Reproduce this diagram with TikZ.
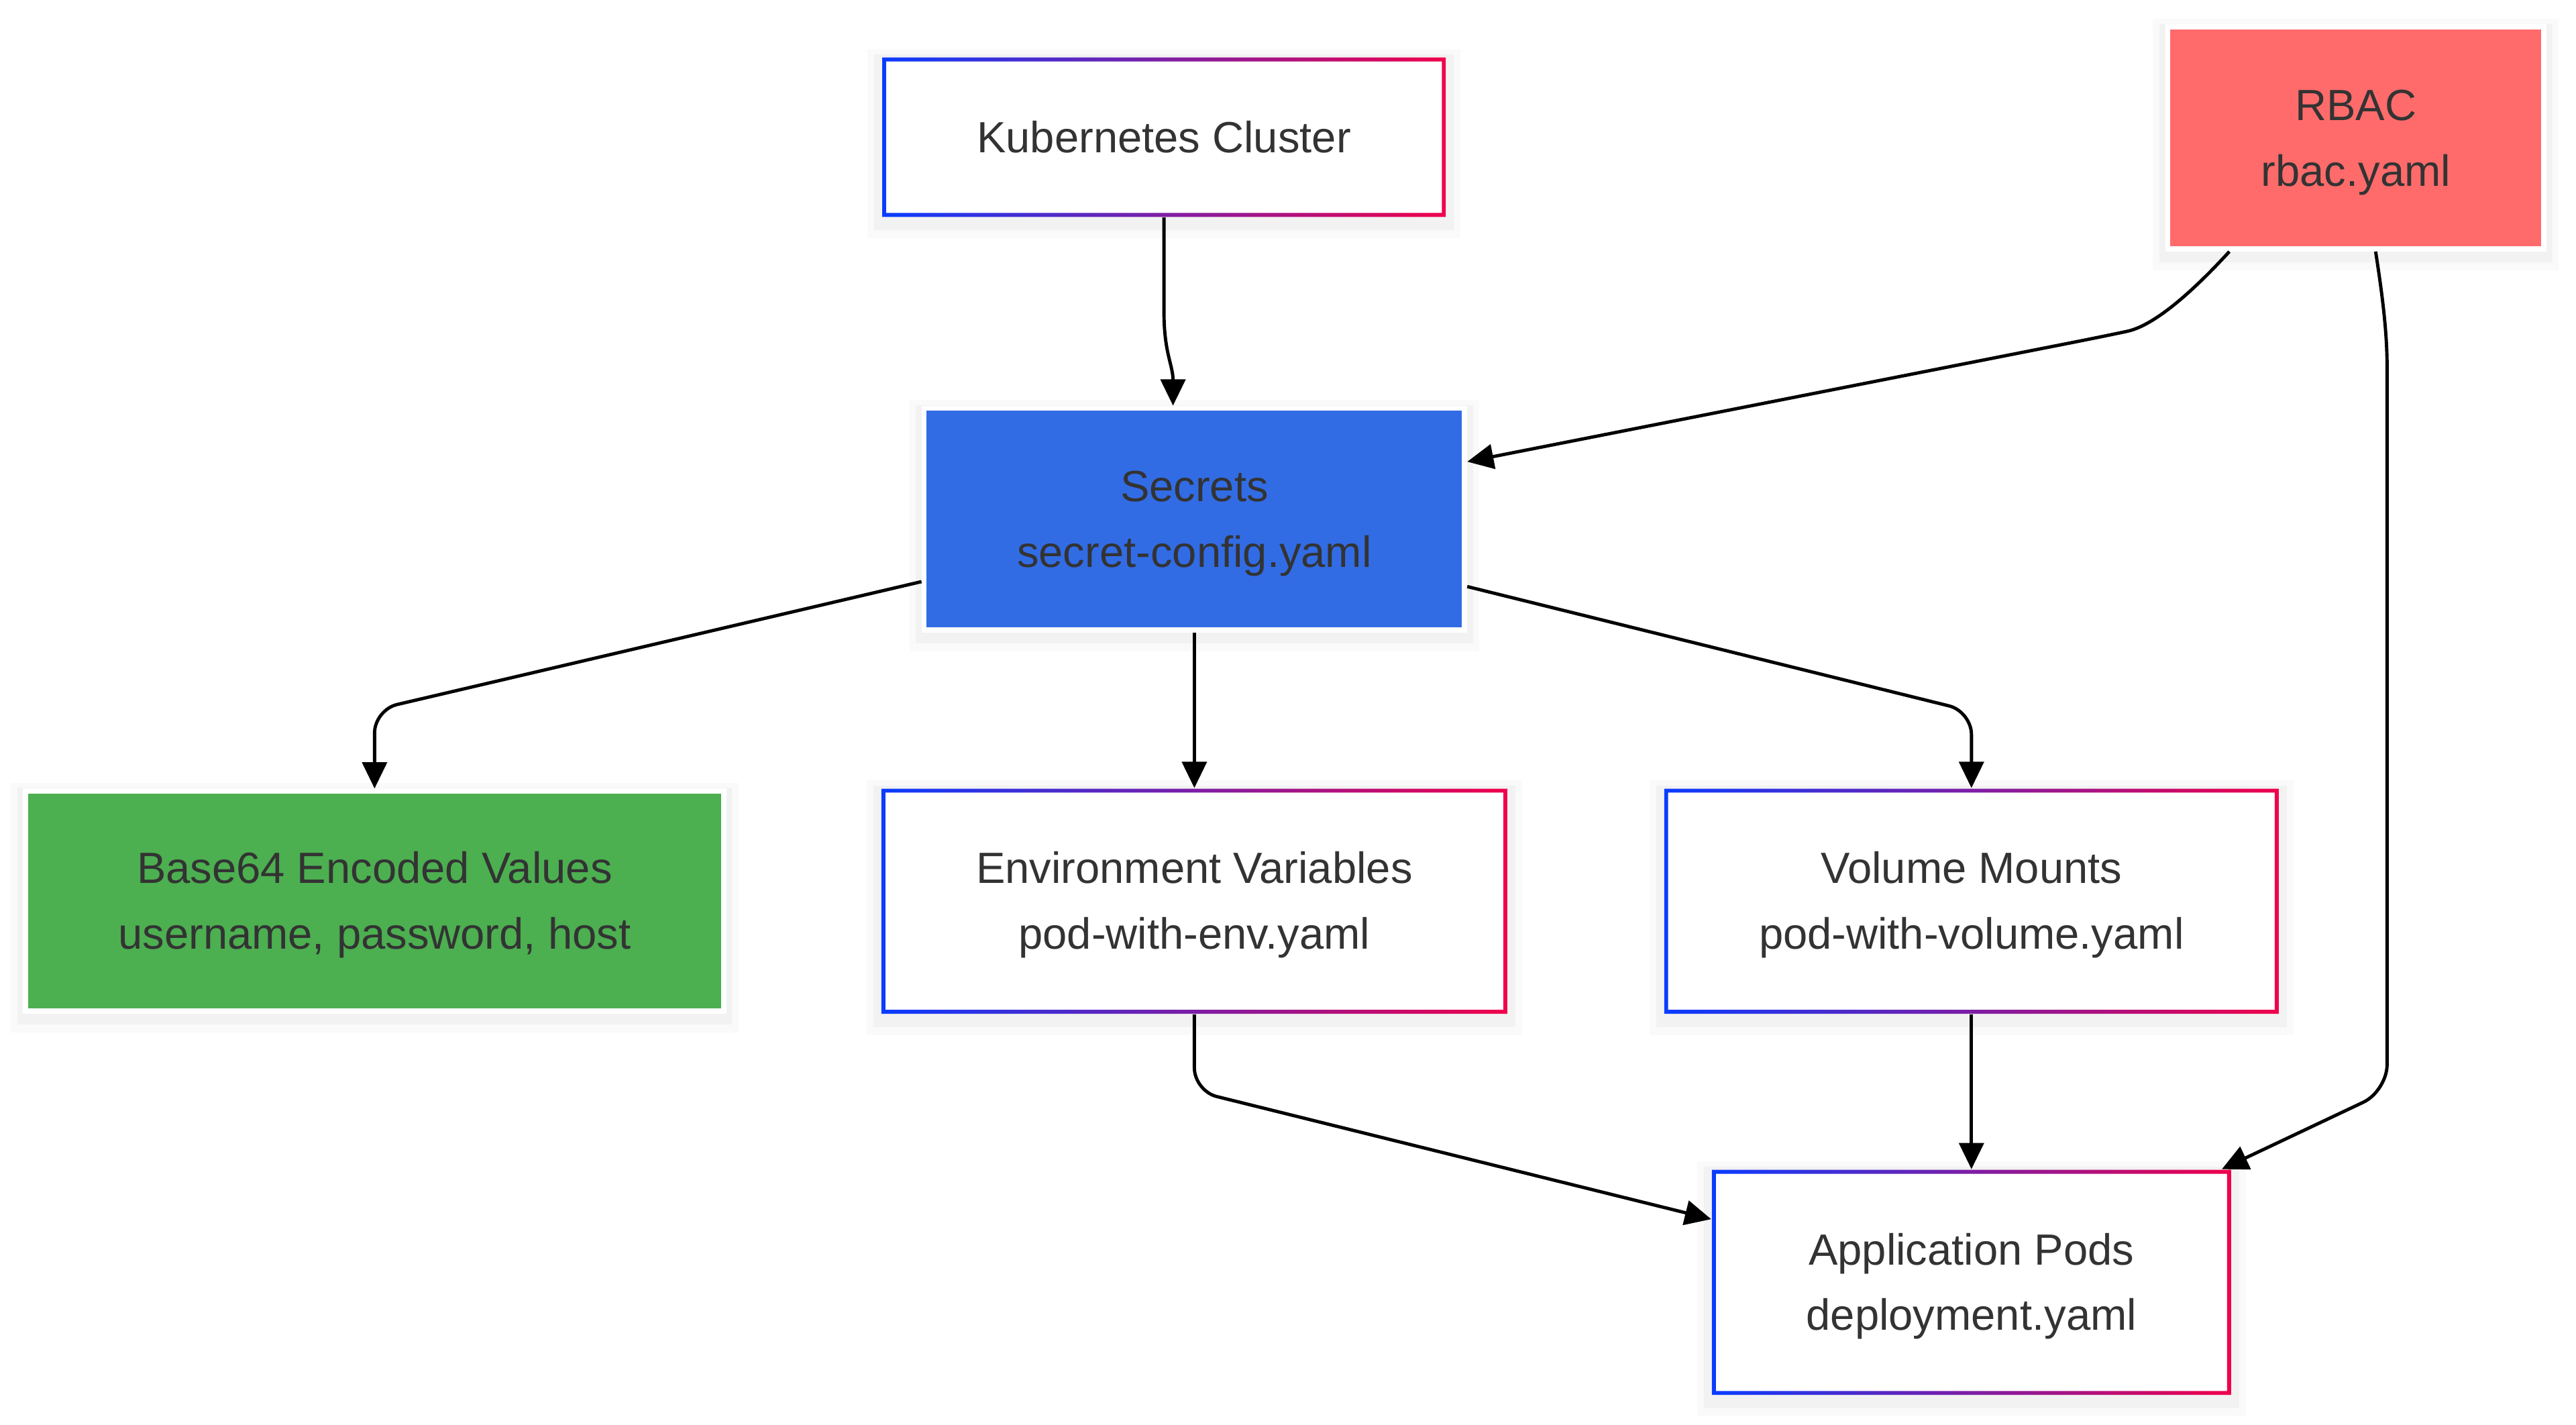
\documentclass[tikz,border=0pt]{standalone}
\usepackage{fontspec}
\setmainfont{Liberation Sans}
\usepackage{tikz}
\usetikzlibrary{arrows.meta}

\definecolor{textcol}{HTML}{333333}
\definecolor{secretblue}{HTML}{326CE5}
\definecolor{valgreen}{HTML}{4CAF50}
\definecolor{rbacred}{HTML}{FF6B6B}
\definecolor{gradL}{HTML}{0A3CFF}
\definecolor{gradR}{HTML}{F0004B}

% line box like a 20pt line height
\newcommand{\linestrut}{\rule[-5.4pt]{0pt}{20pt}}

\begin{document}
\begin{tikzpicture}[x=0.5pt, y=-0.5pt,
		every node/.style={font=\fontsize{13.3}{20}\selectfont, text=textcol, align=center, inner sep=0pt},
		softshadow/.style={
			preaction={draw=black, draw opacity=0.02, line width=9pt, transform canvas={yshift=-2pt}},
			preaction={draw=black, draw opacity=0.03, line width=5pt, transform canvas={yshift=-1.5pt}}},
		gradbox/.style={rectangle, fill=white, softshadow,
			path picture={\fill[left color=gradL, right color=gradR, even odd rule]
				(path picture bounding box.south west) rectangle (path picture bounding box.north east)
				([shift={(1.2pt,1.2pt)}]path picture bounding box.south west) rectangle ([shift={(-1.2pt,-1.2pt)}]path picture bounding box.north east);}},
		filledbox/.style={rectangle, draw=white, line width=1.6pt, softshadow},
		flow/.style={-{Triangle[length=8pt,width=7.5pt]}, line width=1pt, black}]
	\useasboundingbox (0, 0) rectangle (1568, 867);

	% top row
	\node[gradbox, minimum width=171.5pt, minimum height=48.5pt] (kube) at (708.5, 83.5) {\linestrut Kubernetes Cluster};
	\node[filledbox, fill=rbacred, minimum width=114.5pt, minimum height=67.5pt] (rbac) at (1434, 84) {\linestrut RBAC\\\linestrut rbac.yaml};

	% secrets
	\node[filledbox, fill=secretblue, minimum width=164.5pt, minimum height=67.5pt] (secrets) at (727, 316) {\linestrut Secrets\\\linestrut secret-config.yaml};

	% consumers
	\node[filledbox, fill=valgreen, minimum width=212.5pt, minimum height=67pt] (base) at (228, 548.5) {\linestrut Base64 Encoded Values\\\linestrut username, password, host};
	\node[gradbox, minimum width=190.5pt, minimum height=68.5pt] (env) at (727, 548.5) {\linestrut Environment Variables\\\linestrut pod-with-env.yaml};
	\node[gradbox, minimum width=187pt, minimum height=68.5pt] (vol) at (1200, 548.5) {\linestrut Volume Mounts\\\linestrut pod-with-volume.yaml};
	\node[gradbox, minimum width=158pt, minimum height=68.5pt] (app) at (1200, 780.5) {\linestrut Application Pods\\\linestrut deployment.yaml};

	% connectors
	\draw[flow] (kube.south) -- (708.5, 190) .. controls (708.5, 215) and (714, 222) .. ([xshift=-6.5pt]secrets.north);
	\draw[flow, rounded corners=8pt] ([xshift=-38.5pt]rbac.south) .. controls (1336, 176) and (1312, 198) .. (1279, 205) -- ([yshift=17.5pt]secrets.east);
	\draw[flow, rounded corners=8pt] ([xshift=6pt]rbac.south) .. controls (1451, 185) and (1453, 205) .. (1453, 240) -- (1453, 664) -- ([xshift=-3pt]app.north east);
	\draw[flow, rounded corners=7pt] ([yshift=-19pt]secrets.west) -- (228, 432) -- (base.north);
	\draw[flow] (secrets.south) -- (env.north);
	\draw[flow, rounded corners=7pt] ([yshift=-20.5pt]secrets.east) -- (1200, 433) -- (vol.north);
	\draw[flow, rounded corners=7pt] (env.south) -- (727, 664) -- ([yshift=19.25pt]app.west);
	\draw[flow] (vol.south) -- (app.north);

\end{tikzpicture}
\end{document}
